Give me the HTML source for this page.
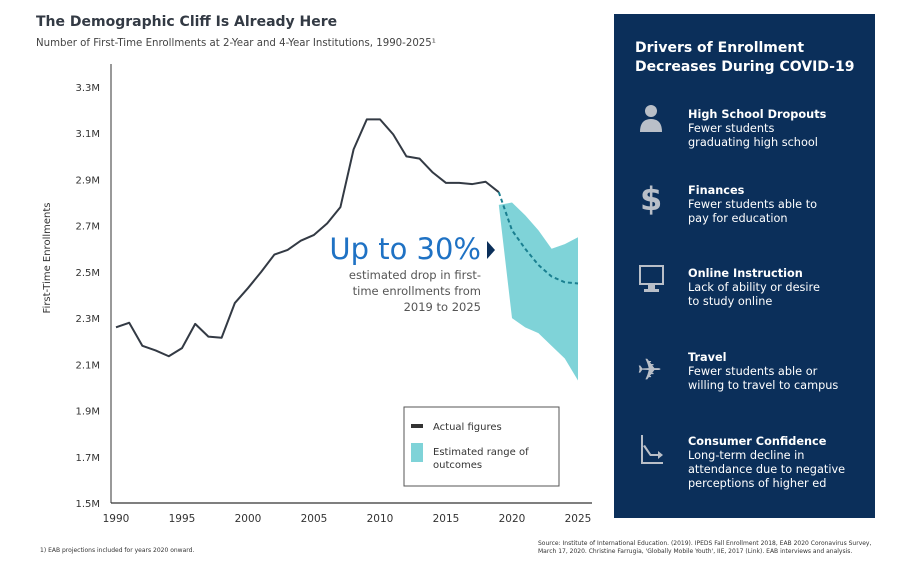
<!DOCTYPE html>
<html><head><meta charset="utf-8"><style>
body{margin:0;background:#fff;width:897px;height:559px;overflow:hidden;font-family:"Liberation Sans","DejaVu Sans",sans-serif;}
svg text{font-family:"DejaVu Sans","Liberation Sans",sans-serif;}
</style></head><body>
<svg id="chart" width="897" height="559" viewBox="0 0 897 559">
<text x="36" y="26" font-size="14" font-weight="bold" fill="#333a44">The Demographic Cliff Is Already Here</text>
<text x="36" y="46" font-size="10.2" fill="#444">Number of First-Time Enrollments at 2-Year and 4-Year Institutions, 1990-2025¹</text>
<text transform="translate(50,258) rotate(-90)" text-anchor="middle" font-size="10" fill="#333">First-Time Enrollments</text>
<g id="axes"></g>
<g id="marks"></g>
<text x="481" y="259" text-anchor="end" font-size="29" fill="#1f72c4" font-family="Liberation Sans,sans-serif">Up to 30%</text>
<polygon points="487,241 495,250 487,259" fill="#0b2f5a"/>
<text text-anchor="end" font-size="11.5" fill="#555"><tspan x="481" y="279">estimated drop in first-</tspan><tspan x="481" y="295">time enrollments from</tspan><tspan x="481" y="311">2019 to 2025</tspan></text>
<g>
<rect x="404" y="407" width="155" height="79" fill="#fff" stroke="#555" stroke-width="1"/>
<rect x="411" y="424" width="12" height="4" fill="#333"/>
<text x="433" y="430" font-size="10" fill="#333">Actual figures</text>
<rect x="411" y="443" width="12" height="19" fill="#7fd3d8"/>
<text font-size="10" fill="#333"><tspan x="433" y="455">Estimated range of</tspan><tspan x="433" y="468">outcomes</tspan></text>
</g>
<text x="40" y="552" font-size="6" fill="#333">1)  EAB projections included for years 2020 onward.</text>
<text font-size="6" fill="#333"><tspan x="538" y="545">Source: Institute of International Education. (2019). IPEDS Fall Enrollment 2018, EAB 2020 Coronavirus Survey,</tspan><tspan x="538" y="553">March 17, 2020. Christine Farrugia, 'Globally Mobile Youth', IIE, 2017 (Link). EAB interviews and analysis.</tspan></text>
<g>
<rect x="614" y="14" width="261" height="504" fill="#0b2f5a"/>
<text font-size="14" font-weight="bold" fill="#fff"><tspan x="635" y="52">Drivers of Enrollment</tspan><tspan x="635" y="71">Decreases During COVID-19</tspan></text>
<g fill="#b9bfc8">
<circle cx="651" cy="111" r="6"/><path d="M640 132 q0-13 11-13 q11 0 11 13z"/>
<text x="640" y="210" font-size="32" font-weight="bold" font-family="Liberation Sans,sans-serif">$</text>
<rect x="640" y="266" width="23" height="18" fill="none" stroke="#b9bfc8" stroke-width="2"/><rect x="648" y="284" width="7" height="5"/><rect x="644" y="289" width="15" height="3"/>
<text x="637" y="380" font-size="30">✈</text>
<path d="M641 435 v29 h22 v-2 h-20 v-27z M645 445 l6 9 h7 v-3 l5 4 -5 4 v-3 h-8 l-7-10z"/>
</g>
<g fill="#fff" font-size="11.3">
<text><tspan x="688" y="118" font-weight="bold">High School Dropouts</tspan><tspan x="688" y="132">Fewer students</tspan><tspan x="688" y="146">graduating high school</tspan></text>
<text><tspan x="688" y="194" font-weight="bold">Finances</tspan><tspan x="688" y="208">Fewer students able to</tspan><tspan x="688" y="222">pay for education</tspan></text>
<text><tspan x="688" y="277" font-weight="bold">Online Instruction</tspan><tspan x="688" y="291">Lack of ability or desire</tspan><tspan x="688" y="305">to study online</tspan></text>
<text><tspan x="688" y="361" font-weight="bold">Travel</tspan><tspan x="688" y="375">Fewer students able or</tspan><tspan x="688" y="389">willing to travel to campus</tspan></text>
<text><tspan x="688" y="445" font-weight="bold">Consumer Confidence</tspan><tspan x="688" y="459">Long-term decline in</tspan><tspan x="688" y="473">attendance due to negative</tspan><tspan x="688" y="487">perceptions of higher ed</tspan></text>
</g>
</g>
</svg>
<script>
const actualYears=[1990,1991,1992,1993,1994,1995,1996,1997,1998,1999,2000,2001,2002,2003,2004,2005,2006,2007,2008,2009,2010,2011,2012,2013,2014,2015,2016,2017,2018,2019];
const actualValues=[2.26,2.28,2.18,2.16,2.135,2.17,2.275,2.22,2.215,2.365,2.43,2.5,2.575,2.595,2.635,2.66,2.71,2.78,3.03,3.16,3.16,3.095,3.0,2.99,2.93,2.885,2.885,2.88,2.89,2.845];
const projYears=[2019,2020,2021,2022,2023,2024,2025];
const projValues=[2.845,2.68,2.6,2.53,2.48,2.455,2.45];
const bandYears=[2019,2020,2021,2022,2023,2024,2025];
const bandUpper=[2.79,2.8,2.745,2.68,2.6,2.62,2.65];
const bandLower=[2.79,2.3,2.26,2.235,2.18,2.125,2.03];
const yTicks=[1.5,1.7,1.9,2.1,2.3,2.5,2.7,2.9,3.1,3.3];
const xTicks=[1990,1995,2000,2005,2010,2015,2020,2025];
const NS='http://www.w3.org/2000/svg';
const X=y=>116+(y-1990)*(578-116)/35;
const Y=v=>503-(v-1.5)*(503-87)/1.8;
function mk(tag,attrs,parent){const e=document.createElementNS(NS,tag);for(const k in attrs)e.setAttribute(k,attrs[k]);parent.appendChild(e);return e;}
const axes=document.getElementById('axes'),marks=document.getElementById('marks');
const ya=mk('line',{x1:111,y1:64,x2:111,y2:503,stroke:'#333','stroke-width':1},axes);


const xa=mk('line',{x1:111,y1:503,x2:592,y2:503,stroke:'#333','stroke-width':1.2},axes);


yTicks.forEach(v=>{const t=mk('text',{x:100,y:Y(v)+4,'text-anchor':'end','font-size':10,fill:'#333'},axes);t.textContent=v.toFixed(1)+'M';

});
xTicks.forEach(v=>{const t=mk('text',{x:X(v),y:522,'text-anchor':'middle','font-size':10.5,fill:'#333'},axes);t.textContent=v;

});
let bp=bandYears.map((y,i)=>X(y)+','+Y(bandUpper[i])).concat(bandYears.map((y,i)=>X(y)+','+Y(bandLower[i])).reverse());
const band=mk('polygon',{points:bp.join(' '),fill:'#7fd3d8'},marks);


const line=mk('polyline',{points:actualYears.map((y,i)=>X(y)+','+Y(actualValues[i])).join(' '),fill:'none',stroke:'#333a44','stroke-width':2,'stroke-linejoin':'round'},marks);


const proj=mk('polyline',{points:projYears.map((y,i)=>X(y)+','+Y(projValues[i])).join(' '),fill:'none',stroke:'#1a7f90','stroke-width':2,'stroke-dasharray':'4,3'},marks);


</script>
</body></html>
